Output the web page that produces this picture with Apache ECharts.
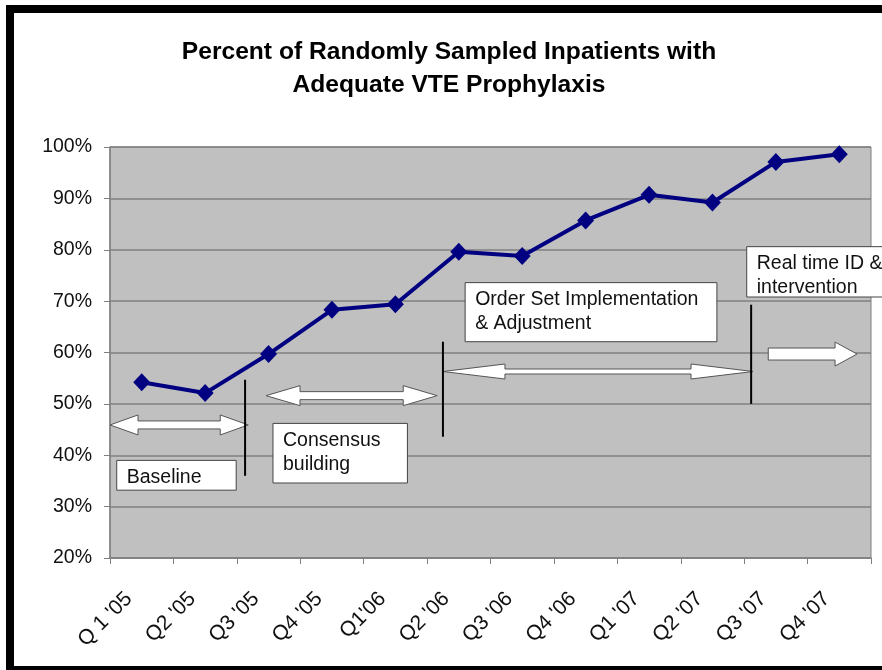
<!DOCTYPE html>
<html>
<head>
<meta charset="utf-8">
<script src="https://cdn.jsdelivr.net/npm/echarts@6/dist/echarts.min.js"></script>
<style>
html,body{margin:0;padding:0;background:#fff;}
#chart{width:882px;height:670px;}
</style>
</head>
<body>
<div id="chart"></div>
<script>
// ---- Data ----
const categories = ["Q 1 '05", "Q2 '05", "Q3 '05", "Q4 '05", "Q1'06", "Q2 '06", "Q3 '06", "Q4 '06", "Q1 '07", "Q2 '07", "Q3 '07", "Q4 '07"];
const percentAdequate = [54.2, 52.1, 59.7, 68.3, 69.4, 79.6, 78.8, 85.7, 90.7, 89.2, 97.1, 98.6];
const yMin = 20, yMax = 100, yStep = 10;
const titleLines = ["Percent of Randomly Sampled Inpatients with", "Adequate VTE Prophylaxis"];

// Phase annotations (x in quarter units from left of plot, y in percent)
const phaseDividers = [
  { x: 2.13, y1: 54.7, y2: 36.0 },
  { x: 5.25, y1: 62.1, y2: 43.6 },
  { x: 10.11, y1: 69.3, y2: 50.0 }
];
const phaseArrows = [
  { x1: 0.0, x2: 2.18, y: 45.9, kind: 'double', head: 'a' },
  { x1: 2.46, x2: 5.16, y: 51.6, kind: 'double', head: 'b' },
  { x1: 5.25, x2: 10.14, y: 56.3, kind: 'double', head: 'c' },
  { x1: 10.38, x2: 11.78, y: 59.7, kind: 'right', head: 'd' }
];
const phaseLabels = [
  { x1: 0.106, x2: 1.99, yTop: 39.0, yBottom: 33.2, lines: ["Baseline"] },
  { x1: 2.57, x2: 4.69, yTop: 46.2, yBottom: 34.6, lines: ["Consensus", "building"] },
  { x1: 5.60, x2: 9.57, yTop: 73.6, yBottom: 62.1, lines: ["Order Set Implementation", "& Adjustment"] },
  { x1: 10.04, x2: 12.25, yTop: 80.6, yBottom: 70.8, lines: ["Real time ID &", "intervention"] }
];

// ---- Styles for arrows (pixel sizes) ----
const headStyles = {
  a: { len: 28, half: 10, shaft: 4 },
  b: { len: 34, half: 10, shaft: 4 },
  c: { len: 62, half: 7.5, shaft: 2.5 },
  d: { len: 22, half: 12, shaft: 6 }
};

const annotations = []
  .concat(phaseDividers.map(d => Object.assign({ type: 'divider' }, d)))
  .concat(phaseArrows.map(d => Object.assign({ type: 'arrow' }, d)))
  .concat(phaseLabels.map(d => Object.assign({ type: 'box' }, d)));

const FONT = '"Liberation Sans", Arial, Helvetica, sans-serif';

function renderAnnotation(params, api) {
  const a = annotations[params.dataIndex];
  if (a.type === 'divider') {
    const p1 = api.coord([a.x, a.y1]);
    const p2 = api.coord([a.x, a.y2]);
    return { type: 'line', z2: 5, shape: { x1: p1[0], y1: p1[1], x2: p2[0], y2: p2[1] },
      style: { stroke: '#000', lineWidth: 2 } };
  }
  if (a.type === 'arrow') {
    const p1 = api.coord([a.x1, a.y]);
    const p2 = api.coord([a.x2, a.y]);
    const st = headStyles[a.head];
    const x1 = p1[0], x2 = p2[0], y = p1[1];
    let pts;
    if (a.kind === 'double') {
      pts = [[x1, y], [x1 + st.len, y - st.half], [x1 + st.len, y - st.shaft], [x2 - st.len, y - st.shaft],
        [x2 - st.len, y - st.half], [x2, y], [x2 - st.len, y + st.half], [x2 - st.len, y + st.shaft],
        [x1 + st.len, y + st.shaft], [x1 + st.len, y + st.half]];
    } else {
      pts = [[x1, y - st.shaft], [x2 - st.len, y - st.shaft], [x2 - st.len, y - st.half], [x2, y],
        [x2 - st.len, y + st.half], [x2 - st.len, y + st.shaft], [x1, y + st.shaft]];
    }
    return { type: 'polygon', z2: 4, shape: { points: pts },
      style: { fill: '#fff', stroke: '#555', lineWidth: 1 } };
  }
  // box
  const tl = api.coord([a.x1, a.yTop]);
  const br = api.coord([a.x2, a.yBottom]);
  const children = [{ type: 'rect', shape: { x: tl[0], y: tl[1], width: br[0] - tl[0], height: br[1] - tl[1] },
    style: { fill: '#fff', stroke: '#444', lineWidth: 1 } }];
  a.lines.forEach((t, i) => {
    children.push({ type: 'text', style: { text: t, x: tl[0] + 10, y: tl[1] + 17 + i * 24,
      fill: '#111', font: '19.5px ' + FONT, textVerticalAlign: 'middle', textAlign: 'left' } });
  });
  return { type: 'group', z2: 6, children: children };
}

const chart = echarts.init(document.getElementById('chart'), null, { renderer: 'canvas' });
chart.setOption({
  animation: false,
  backgroundColor: '#fff',
  title: {
    text: titleLines.join('\n'),
    left: 444, top: 31, textAlign: 'center',
    textStyle: { fontFamily: FONT, fontWeight: 'bold', fontSize: 24.6, lineHeight: 33, color: '#000' }
  },
  graphic: [
    { type: 'rect', shape: { x: 6, y: 5, width: 876, height: 8 }, style: { fill: '#000' } },
    { type: 'rect', shape: { x: 6, y: 5, width: 8, height: 665 }, style: { fill: '#000' } },
    { type: 'rect', shape: { x: 6, y: 666, width: 876, height: 4 }, style: { fill: '#000' } }
  ],
  grid: { left: 110, right: 11, top: 147, bottom: 112, show: true, backgroundColor: '#c0c0c0',
    borderColor: '#808080', borderWidth: 1 },
  xAxis: [{
    type: 'category', data: categories, boundaryGap: true,
    axisLine: { lineStyle: { color: '#808080', width: 1.5 } },
    axisTick: { show: true, length: 6, lineStyle: { color: '#808080' } },
    axisLabel: { rotate: 45, margin: 25, padding: [0, 18, 0, 0], fontSize: 21, fontFamily: FONT, color: '#111' },
    splitLine: { show: false }
  }, {
    type: 'value', min: 0, max: 12, show: false, position: 'bottom'
  }],
  yAxis: {
    type: 'value', min: yMin, max: yMax, interval: yStep,
    axisLine: { show: true, lineStyle: { color: '#808080', width: 1.5 } },
    axisTick: { show: true, length: 6, lineStyle: { color: '#808080' } },
    axisLabel: { formatter: '{value}%', margin: 18, fontSize: 19.5, fontFamily: FONT, color: '#111' },
    splitLine: { show: true, lineStyle: { color: '#808080', width: 1.5 } }
  },
  series: [{
    type: 'custom', xAxisIndex: 1, yAxisIndex: 0, silent: true, z: 3, clip: false,
    data: annotations.map((a, i) => [i, 50]),
    renderItem: renderAnnotation
  }, {
    type: 'line', xAxisIndex: 0, yAxisIndex: 0, data: percentAdequate, z: 5,
    lineStyle: { color: '#000080', width: 4 },
    itemStyle: { color: '#000080' },
    symbol: 'diamond', symbolSize: [17, 18], showSymbol: true
  }]
});
</script>
</body>
</html>
